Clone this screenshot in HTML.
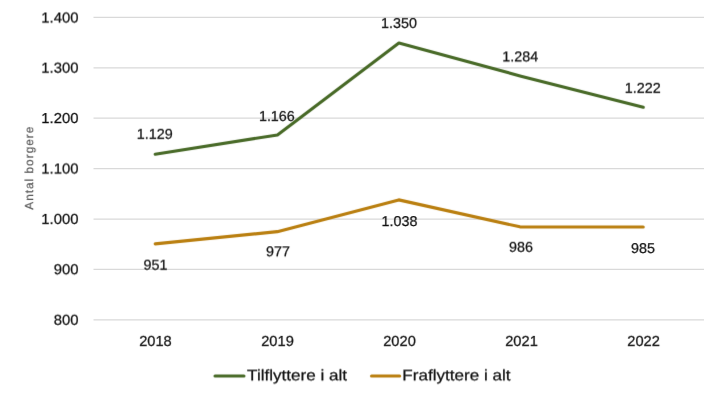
<!DOCTYPE html>
<html lang="da">
<head>
<meta charset="utf-8">
<title>Tilflyttere og fraflyttere</title>
<style>
html,body{margin:0;padding:0;background:#fff;}
body{width:721px;height:400px;overflow:hidden;}
svg{display:block;}
text{font-family:"Liberation Sans",sans-serif;fill:#111111;stroke:#111111;stroke-width:0.25px;text-rendering:geometricPrecision;}
.t{font-size:14.4px;}
.x{font-size:14.4px;}
.d{font-size:14.2px;}
.lg{font-size:15.3px;}
.ax{font-size:11.8px;fill:#595959;stroke:#595959;stroke-width:0.2px;letter-spacing:1.02px;}
.grid line{stroke:#d9d9d9;stroke-width:1.3;}
.ser{fill:none;stroke-width:3.1;stroke-linecap:round;stroke-linejoin:round;}
</style>
</head>
<body>
<svg width="721" height="400" viewBox="0 0 721 400">
<rect width="721" height="400" fill="#fff"/>
<defs>
<filter id="lb" filterUnits="userSpaceOnUse" x="0" y="0" width="721" height="400" color-interpolation-filters="sRGB"><feConvolveMatrix order="3 3" kernelMatrix="0.0064 0.0672 0.0064 0.0672 0.7056 0.0672 0.0064 0.0672 0.0064" preserveAlpha="false" edgeMode="none"/></filter>
<filter id="hs" filterUnits="userSpaceOnUse" x="10" y="110" width="40" height="120" color-interpolation-filters="sRGB"><feConvolveMatrix order="2 3" kernelMatrix="0.0400 0.0100 0.7200 0.1800 0.0400 0.0100" targetX="1" targetY="1" preserveAlpha="false" edgeMode="none"/></filter>
<filter id="vm125" x="-10%" y="-40%" width="120%" height="180%" color-interpolation-filters="sRGB"><feConvolveMatrix order="3 2" kernelMatrix="0.0063 0.1125 0.0063 0.0438 0.7875 0.0438" targetX="1" targetY="0" preserveAlpha="false" edgeMode="none"/></filter>
<filter id="vm250" x="-10%" y="-40%" width="120%" height="180%" color-interpolation-filters="sRGB"><feConvolveMatrix order="3 2" kernelMatrix="0.0125 0.2250 0.0125 0.0375 0.6750 0.0375" targetX="1" targetY="0" preserveAlpha="false" edgeMode="none"/></filter>
<filter id="vm375" x="-10%" y="-40%" width="120%" height="180%" color-interpolation-filters="sRGB"><feConvolveMatrix order="3 2" kernelMatrix="0.0188 0.3375 0.0188 0.0312 0.5625 0.0312" targetX="1" targetY="0" preserveAlpha="false" edgeMode="none"/></filter>
<filter id="vm500" x="-10%" y="-40%" width="120%" height="180%" color-interpolation-filters="sRGB"><feConvolveMatrix order="3 2" kernelMatrix="0.0250 0.4500 0.0250 0.0250 0.4500 0.0250" targetX="1" targetY="0" preserveAlpha="false" edgeMode="none"/></filter>
<filter id="vp0" x="-10%" y="-40%" width="120%" height="180%" color-interpolation-filters="sRGB"><feConvolveMatrix order="3 1" kernelMatrix="0.0500 0.9000 0.0500" targetX="1" targetY="0" preserveAlpha="false" edgeMode="none"/></filter>
<filter id="vp250" x="-10%" y="-40%" width="120%" height="180%" color-interpolation-filters="sRGB"><feConvolveMatrix order="3 2" kernelMatrix="0.0375 0.6750 0.0375 0.0125 0.2250 0.0125" targetX="1" targetY="1" preserveAlpha="false" edgeMode="none"/></filter>
<filter id="vp375" x="-10%" y="-40%" width="120%" height="180%" color-interpolation-filters="sRGB"><feConvolveMatrix order="3 2" kernelMatrix="0.0312 0.5625 0.0312 0.0188 0.3375 0.0188" targetX="1" targetY="1" preserveAlpha="false" edgeMode="none"/></filter>
<filter id="vp500" x="-10%" y="-40%" width="120%" height="180%" color-interpolation-filters="sRGB"><feConvolveMatrix order="3 2" kernelMatrix="0.0250 0.4500 0.0250 0.0250 0.4500 0.0250" targetX="1" targetY="1" preserveAlpha="false" edgeMode="none"/></filter>
</defs>
<g class="grid">
<line x1="93.5" y1="17.40" x2="704.0" y2="17.40"/>
<line x1="93.5" y1="67.81" x2="704.0" y2="67.81"/>
<line x1="93.5" y1="118.22" x2="704.0" y2="118.22"/>
<line x1="93.5" y1="168.63" x2="704.0" y2="168.63"/>
<line x1="93.5" y1="219.03" x2="704.0" y2="219.03"/>
<line x1="93.5" y1="269.44" x2="704.0" y2="269.44"/>
<line x1="93.5" y1="319.85" x2="704.0" y2="319.85"/>
</g>
<text class="t" transform="translate(78.50 23) scale(1.032 1)" text-anchor="end" filter="url(#vm500)">1.400</text>
<text class="t" transform="translate(78.50 73) scale(1.032 1)" text-anchor="end" filter="url(#vm375)">1.300</text>
<text class="t" transform="translate(78.50 123) scale(1.032 1)" text-anchor="end" filter="url(#vp0)">1.200</text>
<text class="t" transform="translate(78.50 173) scale(1.032 1)" text-anchor="end" filter="url(#vp500)">1.100</text>
<text class="t" transform="translate(78.50 224) scale(1.032 1)" text-anchor="end" filter="url(#vm125)">1.000</text>
<text class="t" transform="translate(78.50 274) scale(1.032 1)" text-anchor="end" filter="url(#vp250)">900</text>
<text class="t" transform="translate(78.50 325) scale(1.032 1)" text-anchor="end" filter="url(#vm250)">800</text>
<text class="x" transform="translate(155.45 346) scale(1.02 1)" text-anchor="middle" filter="url(#vm125)">2018</text>
<text class="x" transform="translate(277.47 346) scale(1.02 1)" text-anchor="middle" filter="url(#vm125)">2019</text>
<text class="x" transform="translate(399.50 346) scale(1.02 1)" text-anchor="middle" filter="url(#vm125)">2020</text>
<text class="x" transform="translate(521.52 346) scale(1.02 1)" text-anchor="middle" filter="url(#vm125)">2021</text>
<text class="x" transform="translate(643.55 346) scale(1.02 1)" text-anchor="middle" filter="url(#vm125)">2022</text>
<g filter="url(#lb)">
<polyline class="ser" stroke="#476926" points="155.20,154.16 277.45,134.96 398.90,43.10 521.00,76.17 643.25,107.28"/>
<polyline class="ser" stroke="#B97E0E" points="155.20,243.88 277.30,231.63 398.70,199.88 519.90,226.84 643.25,226.99"/>
</g>
<text class="d" transform="translate(154.75 139) scale(1.01 1)" text-anchor="middle" filter="url(#vm250)">1.129</text>
<text class="d" transform="translate(276.85 121) scale(1.01 1)" text-anchor="middle" filter="url(#vm125)">1.166</text>
<text class="d" transform="translate(399.05 28) scale(1.01 1)" text-anchor="middle" filter="url(#vm125)">1.350</text>
<text class="d" transform="translate(520.30 61) scale(1.01 1)" text-anchor="middle" filter="url(#vp375)">1.284</text>
<text class="d" transform="translate(642.75 93) scale(1.01 1)" text-anchor="middle" filter="url(#vm250)">1.222</text>
<text class="d" transform="translate(155.45 270) scale(1.01 1)" text-anchor="middle" filter="url(#vm375)">951</text>
<text class="d" transform="translate(277.90 256) scale(1.01 1)" text-anchor="middle" filter="url(#vp250)">977</text>
<text class="d" transform="translate(399.55 226) scale(1.01 1)" text-anchor="middle" filter="url(#vp0)">1.038</text>
<text class="d" transform="translate(520.95 252) scale(1.01 1)" text-anchor="middle" filter="url(#vm250)">986</text>
<text class="d" transform="translate(642.95 253) scale(1.01 1)" text-anchor="middle" filter="url(#vp0)">985</text>
<g filter="url(#lb)">
<line x1="215" y1="376" x2="244" y2="376" stroke="#476926" stroke-width="3.05" stroke-linecap="round"/>
<line x1="371.5" y1="376" x2="399.7" y2="376" stroke="#B97E0E" stroke-width="3.05" stroke-linecap="round"/>
</g>
<text class="lg" transform="translate(247.10 380) scale(1.117 1)" filter="url(#vp375)">Tilflyttere i alt</text>
<text class="lg" transform="translate(402.30 380) scale(1.117 1)" filter="url(#vp375)">Fraflyttere i alt</text>
<g filter="url(#hs)"><text class="ax" transform="translate(33 167.7) rotate(-90)" text-anchor="middle">Antal borgere</text></g>
</svg>
</body>
</html>
